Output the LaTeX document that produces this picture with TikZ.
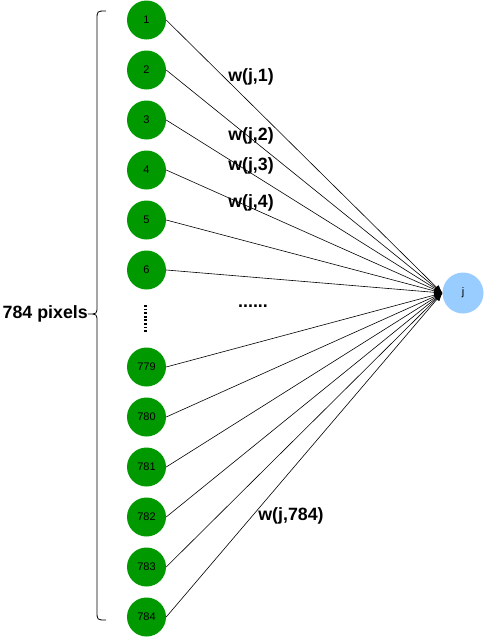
\documentclass[tikz,border=0pt]{standalone}
\usepackage{fontspec}
\setmainfont{Liberation Sans}
\usetikzlibrary{arrows.meta}
\definecolor{ingreen}{HTML}{009900}
\definecolor{outblue}{HTML}{99CCFF}
\begin{document}
\begin{tikzpicture}[x=1pt,y=-1pt,
  innode/.style={circle,fill=ingreen,minimum size=39pt,inner sep=0pt,font=\fontsize{11}{13}\selectfont},
  outnode/.style={circle,fill=outblue,minimum size=41pt,inner sep=0pt,font=\fontsize{11}{13}\selectfont},
  conn/.style={draw=black,line width=0.6pt,-{Latex[length=8pt,width=6pt]}},
  wlabel/.style={font=\fontsize{17.8}{19}\selectfont\bfseries,inner sep=0pt},
  bracestyle/.style={draw=black,line width=0.8pt}]
\useasboundingbox (0,0) rectangle (484,637);
\foreach \lab/\y in {1/20,2/70,3/120,4/170,5/220,6/270,779/367,780/417,781/467,782/517,783/567,784/617}{
  \node[innode] (n\lab) at (146.5,\y) {\lab};
}
\node[outnode] (j) at (463,293) {j};
\foreach \lab in {1,2,3,4,5,6,779,780,781,782,783,784}{
  \draw[conn] (n\lab.east) -- (j.west);
}
% brace
\coordinate (bt) at (88,314);
\draw[bracestyle] (106,11) .. controls (97,11) .. (97,20) -- (97,306) .. controls (97,314) .. (bt)
   .. controls (97,314) .. (97,322) -- (97,611) .. controls (97,620) .. (106,620);
\node[wlabel,anchor=east] (pix) at (bt) {784 pixels};
% dotted vertical
\coordinate (dA) at (145.5,305);
\coordinate (dB) at (145.5,332);
\draw[line width=2.6pt,dash pattern=on 1.8pt off 1.8pt] (dA) -- (dB);
\node[wlabel] (hdots) at (253,306) {......};
% weight labels
\node[wlabel] (w1) at (251,77) {w(j,1)};
\node[wlabel] (w2) at (251,136) {w(j,2)};
\node[wlabel] (w3) at (251,166) {w(j,3)};
\node[wlabel] (w4) at (251,203) {w(j,4)};
\node[wlabel] (w784) at (291,516) {w(j,784)};
\end{tikzpicture}
\end{document}
